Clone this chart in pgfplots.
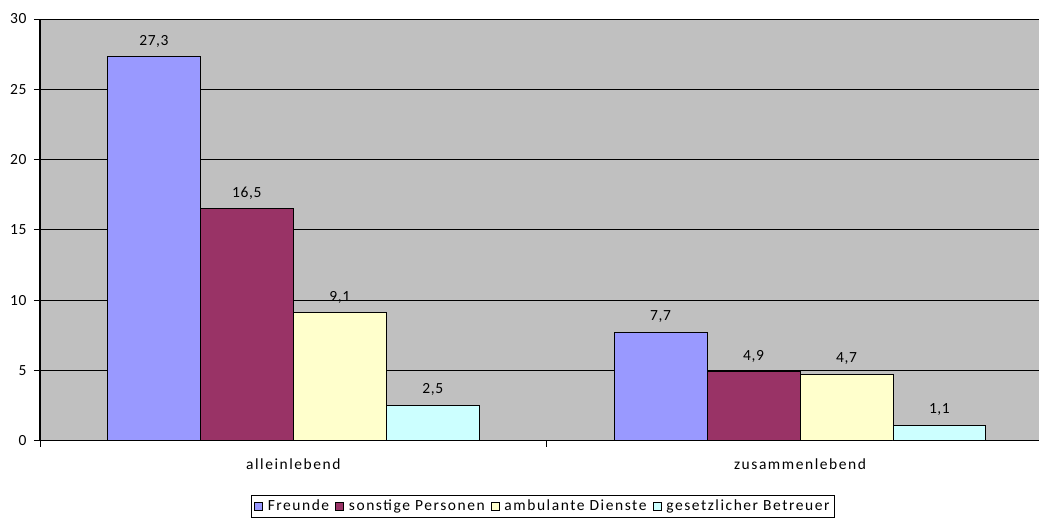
\documentclass[border=0pt]{standalone}
\usepackage{pgfplots}
\pgfplotsset{compat=1.18}
\usepackage{fontspec}
\setmainfont{Carlito}[LetterSpace=10]

\definecolor{plotbg}{RGB}{192,192,192}
\definecolor{freunde}{RGB}{153,153,255}
\definecolor{sonstige}{RGB}{153,51,102}
\definecolor{ambulant}{RGB}{255,255,204}
\definecolor{betreuer}{RGB}{204,255,255}

\newcommand{\lblfont}{\fontsize{15.5}{18}\selectfont}
\newcommand{\numfont}{\fontsize{15.5}{18}\selectfont\addfontfeature{LetterSpace=4}}

\begin{document}
\begin{tikzpicture}
\begin{axis}[
    scale only axis,
    width=1000pt, height=422pt,
    xmin=0, xmax=1.9724,
    ymin=0, ymax=30,
    ybar=0pt,
    bar width=0.1834,
    axis background/.style={fill=plotbg},
    axis x line*=bottom,
    axis y line*=left,
    axis line style={-, black, line width=1.2pt},
    ymajorgrids,
    grid style={black, line width=0.9pt},
    ytick={0,5,...,30},
    xtick={0,1},
    xticklabels={},
    extra x ticks={0.5,1.5},
    extra x tick labels={alleinlebend, zusammenlebend},
    extra x tick style={major tick length=0pt, grid=none,
        xticklabel style={yshift=-14pt}},
    tick align=outside,
    major tick length=6pt,
    tick style={black, line width=0.9pt},
    tick label style={font=\lblfont},
    yticklabel style={font=\numfont, xshift=-4pt},
    /pgf/number format/assume math mode=true,
    nodes near coords,
    nodes near coords style={font=\numfont, yshift=6pt,
        /pgf/number format/.cd, fixed, fixed zerofill, precision=1, use comma, assume math mode=true},
    every axis plot/.append style={draw=black, line width=0.9pt},
    legend columns=4,
    legend style={at={(0.503,-0.128)}, anchor=north, draw=black, fill=white,
        line width=0.8pt, font=\lblfont, inner ysep=3pt, inner xsep=3pt,
        /tikz/every even column/.append style={column sep=4pt}},
    legend image code/.code={\draw[#1, line width=0.7pt] (0pt,-4pt) rectangle (8pt,4pt);
        \path (11pt,0pt);},
]
\addplot[fill=freunde] coordinates {(0.5,27.3) (1.5,7.7)};
\addlegendentry{Freunde}
\addplot[fill=sonstige] coordinates {(0.5,16.5) (1.5,4.9)};
\addlegendentry{sonstige Personen}
\addplot[fill=ambulant] coordinates {(0.5,9.1) (1.5,4.7)};
\addlegendentry{ambulante Dienste}
\addplot[fill=betreuer] coordinates {(0.5,2.5) (1.5,1.1)};
\addlegendentry{gesetzlicher Betreuer}
\end{axis}
\path (-40pt,-80pt) rectangle (1000pt,441pt);
\end{tikzpicture}
\end{document}
